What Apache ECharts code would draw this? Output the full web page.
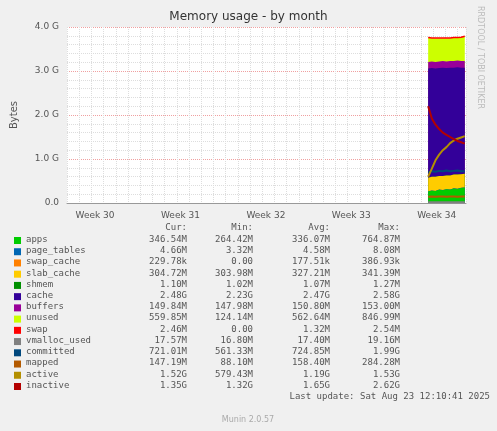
<!DOCTYPE html>
<html><head><meta charset="utf-8">
<script src="https://cdn.jsdelivr.net/npm/echarts@6/dist/echarts.min.js"></script>
<style>html,body{margin:0;padding:0;background:#f0f0f0}#c{width:497px;height:431px}</style>
</head><body><div id="c"></div>
<script>
// x in days from left edge of the plot
var days = [29.6, 29.9, 30.2, 30.5, 30.8, 31.1, 31.4, 31.7, 32.0, 32.3, 32.6];
var weekLabels = ["Week 30", "Week 31", "Week 32", "Week 33", "Week 34"];
var weekPos = [2.3, 9.3, 16.3, 23.3, 30.3];
// values in GB
var apps = [0.26, 0.28, 0.27, 0.30, 0.29, 0.31, 0.30, 0.33, 0.32, 0.34, 0.35];
var pageTables = [0.005, 0.005, 0.005, 0.005, 0.005, 0.005, 0.005, 0.005, 0.005, 0.005, 0.005];
var swapCache = [0.0002, 0.0002, 0.0002, 0.0002, 0.0002, 0.0002, 0.0002, 0.0002, 0.0002, 0.0002, 0.0002];
var slabCache = [0.31, 0.31, 0.32, 0.31, 0.32, 0.31, 0.32, 0.31, 0.32, 0.31, 0.31];
var shmem = [0.001, 0.001, 0.001, 0.001, 0.001, 0.001, 0.001, 0.001, 0.001, 0.001, 0.001];
var cache = [2.48, 2.47, 2.46, 2.45, 2.46, 2.44, 2.45, 2.43, 2.44, 2.42, 2.41];
var buffers = [0.15, 0.15, 0.15, 0.15, 0.15, 0.15, 0.15, 0.15, 0.15, 0.15, 0.15];
var unused = [0.55, 0.53, 0.54, 0.53, 0.52, 0.53, 0.52, 0.53, 0.52, 0.54, 0.56];
var swap = [0.0025, 0.0025, 0.0025, 0.0025, 0.0025, 0.0025, 0.0025, 0.0025, 0.0025, 0.0025, 0.0025];
var vmallocUsed = [0.0175, 0.0175, 0.0175, 0.0175, 0.0175, 0.0175, 0.0175, 0.0175, 0.0175, 0.0175, 0.0175];
var committed = [0.70, 0.72, 0.71, 0.73, 0.72, 0.74, 0.72, 0.73, 0.74, 0.72, 0.72];
var mapped = [0.14, 0.15, 0.14, 0.15, 0.15, 0.14, 0.15, 0.15, 0.14, 0.15, 0.15];
var active = [0.60, 0.78, 0.97, 1.10, 1.20, 1.27, 1.36, 1.42, 1.46, 1.49, 1.52];
var inactive = [2.20, 1.92, 1.78, 1.68, 1.60, 1.55, 1.50, 1.45, 1.41, 1.38, 1.35];

var legendRows = [
  ["apps", "#00cc00", "346.54M", "264.42M", "336.07M", "764.87M"],
  ["page_tables", "#0066b3", "4.66M", "3.32M", "4.58M", "8.08M"],
  ["swap_cache", "#ff8000", "229.78k", "0.00", "177.51k", "386.93k"],
  ["slab_cache", "#ffcc00", "304.72M", "303.98M", "327.21M", "341.39M"],
  ["shmem", "#008f00", "1.10M", "1.02M", "1.07M", "1.27M"],
  ["cache", "#330099", "2.48G", "2.23G", "2.47G", "2.58G"],
  ["buffers", "#990099", "149.84M", "147.98M", "150.80M", "153.00M"],
  ["unused", "#ccff00", "559.85M", "124.14M", "562.64M", "846.99M"],
  ["swap", "#ff0000", "2.46M", "0.00", "1.32M", "2.54M"],
  ["vmalloc_used", "#808080", "17.57M", "16.80M", "17.40M", "19.16M"],
  ["committed", "#00487d", "721.01M", "561.33M", "724.85M", "1.99G"],
  ["mapped", "#b35a00", "147.19M", "88.10M", "158.40M", "284.28M"],
  ["active", "#b38f00", "1.52G", "579.43M", "1.19G", "1.53G"],
  ["inactive", "#b30000", "1.35G", "1.32G", "1.65G", "2.62G"]
];

function pairs(arr) { return days.map(function (d, i) { return [d, arr[i]]; }); }

// stacked areas: cumulative sums, drawn top first so lower layers paint over
var stacked = [apps, pageTables, swapCache, slabCache, shmem, cache, buffers, unused, swap];
var cum = days.map(function () { return 0; });
var cumList = stacked.map(function (arr) {
  cum = cum.map(function (c, i) { return c + arr[i]; });
  return cum.slice();
});
var series = [];
for (var i = stacked.length - 1; i >= 0; i--) {
  var col = legendRows[i][1];
  var isSwap = legendRows[i][0] === "swap";
  series.push({
    name: legendRows[i][0], type: "line", data: pairs(cumList[i]), symbol: "none", z: 2,
    lineStyle: { width: isSwap ? 1.5 : 0, color: col },
    areaStyle: isSwap ? undefined : { color: col, opacity: 1 },
    itemStyle: { color: col }
  });
}
var lines = [vmallocUsed, committed, mapped, active, inactive];
lines.forEach(function (arr, k) {
  var col = legendRows[9 + k][1];
  series.push({ name: legendRows[9 + k][0], type: "line", data: pairs(arr), symbol: "none", z: 3, lineStyle: { width: 2, color: col }, itemStyle: { color: col } });
});

var mono = "DejaVu Sans Mono";
var g = [];
var y0 = 240, dy = 11.23;
[["Cur:", 187], ["Min:", 253], ["Avg:", 330], ["Max:", 400]].forEach(function (h) {
  g.push({ type: "text", x: h[1], y: 223, style: { text: h[0], font: "9px " + mono, fill: "#555", align: "right" } });
});
legendRows.forEach(function (r, i) {
  var y = y0 + i * dy;
  g.push({ type: "rect", shape: { x: 14, y: y - 3, width: 7, height: 7 }, style: { fill: r[1] } });
  g.push({ type: "text", x: 26, y: y - 5, style: { text: r[0], font: "9px " + mono, fill: "#555" } });
  [187, 253, 330, 400].forEach(function (x, k) {
    g.push({ type: "text", x: x, y: y - 5, style: { text: r[2 + k], font: "9px " + mono, fill: "#555", align: "right" } });
  });
});
g.push({ type: "text", x: 490, y: 392, style: { text: "Last update: Sat Aug 23 12:10:41 2025", font: "9px " + mono, fill: "#555", align: "right" } });
g.push({ type: "text", x: 248, y: 416, style: { text: "Munin 2.0.57", font: "8px DejaVu Sans", fill: "#aaa", align: "center" } });
g.push({ type: "text", x: 484, y: 6, rotation: -Math.PI / 2, style: { text: "RRDTOOL / TOBI OETIKER", font: "8px DejaVu Sans", fill: "#bbb" } });

var chart = echarts.init(document.getElementById("c"));
chart.setOption({
  backgroundColor: "#f0f0f0",
  animation: false,
  title: { text: "Memory usage - by month", left: "center", top: 6, textStyle: { fontFamily: "DejaVu Sans", fontSize: 12, fontWeight: "normal", color: "#333" } },
  grid: { left: 67, right: 31, top: 27, bottom: 228, backgroundColor: "#fff", show: true, borderWidth: 0 },
  xAxis: {
    type: "value", min: 0, max: 32.7, interval: 1,
    axisLine: { lineStyle: { color: "#999" } },
    axisTick: { show: false },
    axisLabel: { customValues: weekPos, formatter: function (v) { return weekLabels[weekPos.indexOf(v)]; }, fontFamily: "DejaVu Sans", fontSize: 9, color: "#555" },
    splitLine: { show: true, lineStyle: { color: "#ddd", type: "dotted" } }
  },
  yAxis: {
    type: "value", min: 0, max: 4, interval: 1,
    name: "Bytes", nameLocation: "middle", nameGap: 48, nameTextStyle: { fontFamily: "DejaVu Sans", fontSize: 10, color: "#555" },
    axisLine: { show: false }, axisTick: { show: false },
    axisLabel: { formatter: function (v) { return v === 0 ? "0.0" : v.toFixed(1) + " G"; }, fontFamily: "DejaVu Sans", fontSize: 9, color: "#555" },
    splitLine: { lineStyle: { color: "#f0a0a0", type: "dotted" } },
    minorTick: { show: false, splitNumber: 5 },
    minorSplitLine: { show: true, lineStyle: { color: "#ddd", type: "dotted" } }
  },
  graphic: g,
  series: series
});
</script></body></html>
